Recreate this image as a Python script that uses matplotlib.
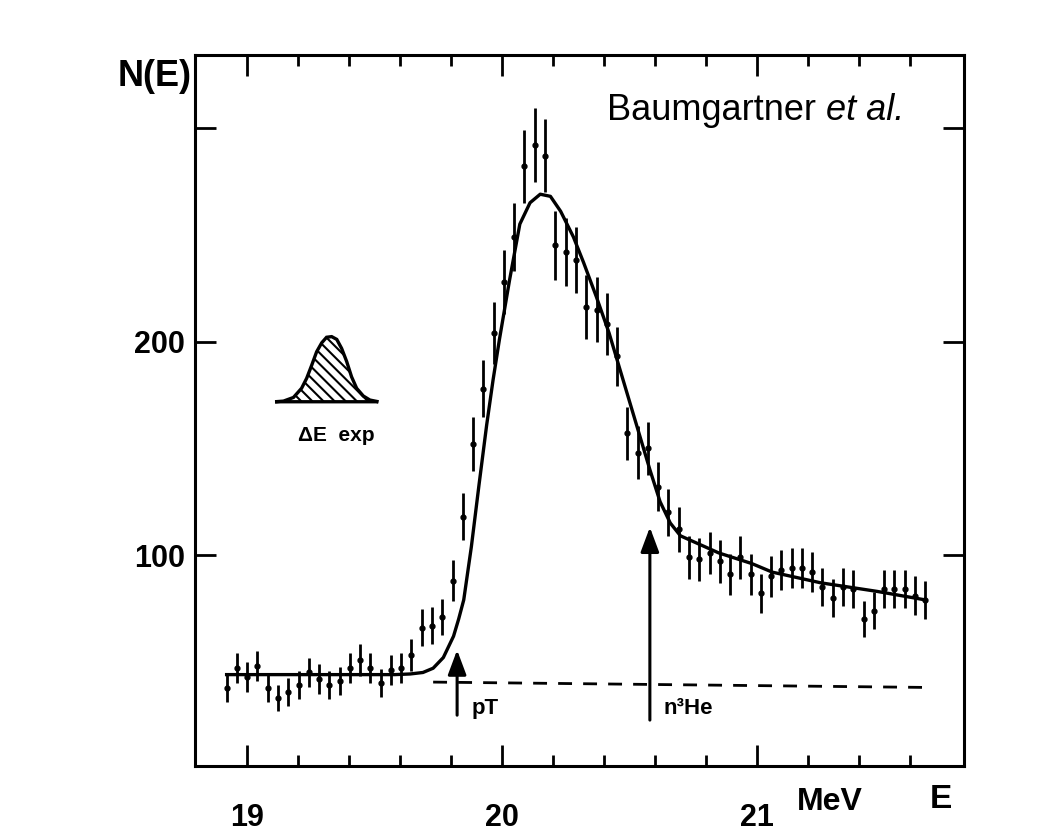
import matplotlib.pyplot as plt

plt.rcParams['font.family'] = ['Liberation Sans', 'DejaVu Sans']
plt.rcParams['hatch.linewidth'] = 1.5

# channel energies (MeV) and counts N(E) with statistical errors
energy = [18.920, 18.960, 19.001, 19.041, 19.081, 19.121, 19.162, 19.202, 19.242, 19.283,
          19.323, 19.363, 19.404, 19.444, 19.484, 19.524, 19.565, 19.605, 19.645, 19.686,
          19.726, 19.766, 19.806, 19.847, 19.887, 19.927, 19.968, 20.008, 20.048, 20.088,
          20.129, 20.169, 20.209, 20.250, 20.290, 20.330, 20.371, 20.411, 20.451, 20.491,
          20.532, 20.572, 20.612, 20.653, 20.693, 20.733, 20.773, 20.814, 20.854, 20.894,
          20.935, 20.975, 21.015, 21.056, 21.096, 21.136, 21.176, 21.217, 21.257, 21.297,
          21.338, 21.378, 21.418, 21.459, 21.499, 21.539, 21.580, 21.620, 21.660]
counts = [37.5, 47, 43, 48, 37.5, 33, 36, 39, 45, 42,
          39, 41, 47, 51, 47, 40, 46, 47, 53, 66,
          67, 71, 88, 118, 152, 178, 204, 228, 249, 282,
          292, 287, 245, 242, 238, 216, 215, 208, 193, 157,
          148, 150, 132, 120, 112, 99, 98, 101, 97, 91,
          99, 91, 82, 90, 93, 94, 94, 92, 85, 80,
          85, 84, 70, 74, 84, 84, 84, 81, 79]
errors = [6.5, 7, 7, 7, 6.5, 6, 6.5, 6.5, 7, 7,
          6.5, 6.5, 7, 7.5, 7, 6.5, 7, 7, 7.5, 8.5,
          8.5, 8.5, 9.5, 11, 12.5, 13.5, 14.5, 15, 16, 17,
          17.5, 17, 16, 16, 15.5, 15, 15, 14.5, 14, 12.5,
          12.5, 12.5, 11.5, 11, 10.5, 10, 10, 10, 10, 9.5,
          10, 9.5, 9, 9.5, 9.5, 9.5, 9.5, 9.5, 9, 9,
          9, 9, 8.5, 8.5, 9, 9, 9, 9, 9]

# fitted curve
fit_e = [18.92, 19.00, 19.20, 19.40, 19.58, 19.64, 19.69, 19.73, 19.77, 19.81, 19.83, 19.85,
         19.88, 19.91, 19.94, 19.965, 19.99, 20.03, 20.07, 20.11, 20.15, 20.19, 20.23,
         20.28, 20.32, 20.37, 20.42, 20.46, 20.50, 20.54, 20.58, 20.62, 20.66, 20.70,
         20.85, 20.98, 21.06, 21.25, 21.47, 21.66]
fit_n = [44, 44, 44, 44, 44, 44.3, 45, 47, 52, 62, 70, 79,
         104, 133, 161, 182, 201, 229, 255, 265, 269, 268, 261,
         249, 237, 221, 204, 188, 172, 156, 140, 125, 115, 109,
         101, 96, 92, 87, 83, 79]

# background (dashed)
base_e = [19.73, 21.66]
base_n = [40.5, 38.0]

# experimental resolution shape
res_e = [19.110, 19.143, 19.182, 19.214, 19.234, 19.254, 19.273, 19.293, 19.312,
         19.332, 19.352, 19.371, 19.391, 19.410, 19.430, 19.456, 19.482, 19.515]
res_n = [171.8, 172.1, 173.8, 178.1, 182.8, 189.0, 195.2, 199.4, 202.0,
         202.3, 201.0, 196.8, 190.6, 183.5, 178.1, 174.5, 172.6, 171.8]

# thresholds
thr_names = ['pT', 'n³He']
thr_e = [19.824, 20.580]
thr_low = [25, 22.7]
thr_tip = [55.5, 113]

W, H = 1052, 835
fig = plt.figure(figsize=(W / 100, H / 100), dpi=100)
ax = fig.add_axes([195 / W, 1 - 766 / H, (964 - 195) / W, (766 - 55) / H])

ax.errorbar(energy, counts, yerr=errors, fmt='o', ms=3.5, color='k',
            elinewidth=2.0, capsize=0)
ax.plot(fit_e, fit_n, color='k', lw=2.4)
ax.plot(base_e, base_n, color='k', lw=2.0, linestyle=(0, (5, 4)))

ax.fill(res_e, res_n, facecolor='white', edgecolor='k', hatch='\\\\\\', lw=2.4)
ax.text(19.35, 156, 'ΔE  exp', ha='center', va='center', fontsize=15, fontweight='bold')

for name, e, lo, tip in zip(thr_names, thr_e, thr_low, thr_tip):
    ax.annotate('', xy=(e, tip), xytext=(e, lo),
                arrowprops=dict(arrowstyle='-|>,head_length=0.75,head_width=0.28',
                                color='k', lw=2.2, mutation_scale=20,
                                shrinkA=0, shrinkB=0))
    ax.text(e + 0.055, 28, name, ha='left', va='center', fontsize=16, fontweight='bold')

ax.set_xlim(18.796, 21.812)
ax.set_ylim(1.2, 334.2)

ax.set_xticks([19, 20, 21])
ax.set_xticklabels(['19', '20', '21'], fontsize=22, fontweight='bold')
ax.set_xticks([19.2, 19.4, 19.6, 19.8, 20.2, 20.4, 20.6, 20.8, 21.2, 21.4, 21.6], minor=True)
ax.set_yticks([100, 200, 300])
ax.set_yticklabels(['100', '200', ''], fontsize=22, fontweight='bold')

ax.tick_params(which='both', direction='in', top=True, right=True, width=2.0)
ax.tick_params(which='major', length=15)
ax.tick_params(which='minor', length=8)
ax.tick_params(axis='x', pad=27)
ax.tick_params(axis='y', pad=7)
for s in ax.spines.values():
    s.set_linewidth(2.2)

fig.text(192 / W, 1 - 77 / H, 'N(E)', ha='right', va='center', fontsize=26, fontweight='bold')
fig.text(830 / W, 1 - 802 / H, 'MeV', ha='center', va='center', fontsize=23, fontweight='bold')
fig.text(941 / W, 1 - 799 / H, 'E', ha='center', va='center', fontsize=24, fontweight='bold')

t1 = fig.text(607 / W, 1 - 120 / H, 'Baumgartner', ha='left', va='baseline', fontsize=26)
ax.annotate('et al.', xy=(1, 0), xycoords=t1, xytext=(7, 0), textcoords='offset points',
            fontsize=26, style='italic', va='bottom', ha='left')

fig.savefig('out.png', dpi=100)
